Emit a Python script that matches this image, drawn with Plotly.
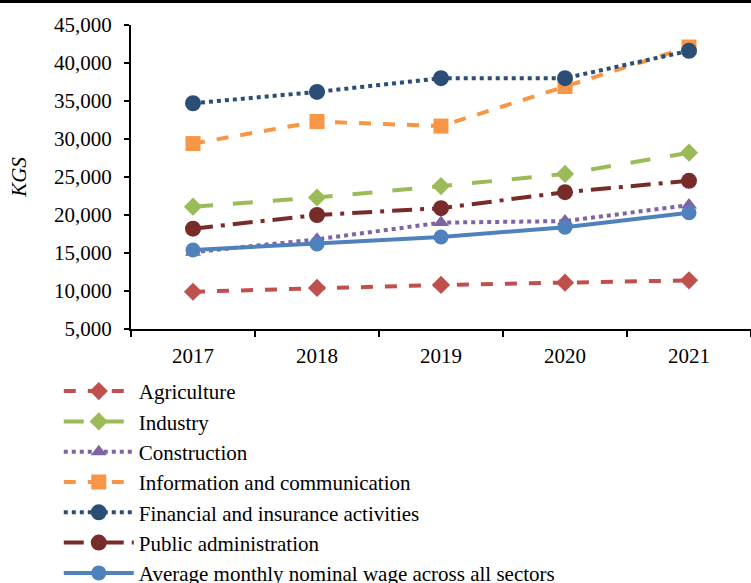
import plotly.graph_objects as go

years = ["2017", "2018", "2019", "2020", "2021"]
agriculture = [9900, 10400, 10800, 11100, 11400]
industry = [21100, 22300, 23800, 25400, 28200]
construction = [15100, 16800, 19000, 19200, 21300]
info_comm = [29400, 32300, 31700, 36900, 42100]
financial = [34700, 36200, 38000, 38000, 41600]
public_admin = [18200, 20000, 20900, 23000, 24500]
average = [15400, 16200, 17100, 18400, 20300]

y_ticks = [5000, 10000, 15000, 20000, 25000, 30000, 35000, 40000, 45000]

series = [
    ("Agriculture", agriculture, "#C0504D", "dash", "diamond", 14),
    ("Industry", industry, "#9BBB59", "longdash", "diamond", 14),
    ("Construction", construction, "#8064A2", "dot", "triangle-up", 14),
    ("Information and communication", info_comm, "#F79646", "dash", "square", 15),
    ("Financial and insurance activities", financial, "#2C4D75", "dot", "circle", 16),
    ("Public administration", public_admin, "#772C2A", "longdashdot", "circle", 16),
    ("Average monthly nominal wage across all sectors", average, "#4F81BD", "solid", "circle", 15),
]

fig = go.Figure()
for i, (name, vals, color, dash, sym, msize) in enumerate(series):
    fig.add_trace(go.Scatter(
        x=years, y=vals, name=name, mode="lines+markers",
        line=dict(color=color, width=4, dash=dash),
        marker=dict(symbol=sym, size=msize, color=color),
        legendgroup=f"g{i}",
    ))

font_family = "Liberation Serif"

fig.update_layout(
    width=751, height=583,
    margin=dict(l=131, r=0, t=25, b=254, autoexpand=False),
    paper_bgcolor="white", plot_bgcolor="white",
    font=dict(family=font_family, size=21, color="black"),
    showlegend=True,
    legend=dict(
        x=-0.1165, xanchor="left", y=-0.138, yanchor="top",
        orientation="v", traceorder="grouped", tracegroupgap=0,
        itemwidth=70, font=dict(family=font_family, size=21, color="black"),
        bgcolor="rgba(0,0,0,0)",
    ),
    xaxis=dict(
        type="category", range=[-0.5, 4.5],
        showline=True, linecolor="black", linewidth=2,
        ticks="outside", tickson="boundaries", ticklen=6, tickwidth=2, tickcolor="black",
        ticklabelstandoff=7,
        showgrid=False, zeroline=False,
        tickfont=dict(family=font_family, size=21),
    ),
    yaxis=dict(
        range=[5000, 45000], tickvals=y_ticks, tickformat=",d",
        showline=True, linecolor="black", linewidth=2,
        ticks="outside", ticklen=5, tickwidth=2, tickcolor="black",
        ticklabelstandoff=8,
        showgrid=False, zeroline=False,
        tickfont=dict(family=font_family, size=21),
        title=dict(text="KGS", font=dict(family=font_family, size=21, style="italic"), standoff=22),
    ),
    shapes=[dict(type="line", xref="paper", yref="paper",
                 x0=-131/620, x1=1.0, y0=1.077, y1=1.077,
                 line=dict(color="black", width=3))],
)

fig.write_html("out.html", config={"displayModeBar": False},
               post_script="document.body.style.margin='0px';")
